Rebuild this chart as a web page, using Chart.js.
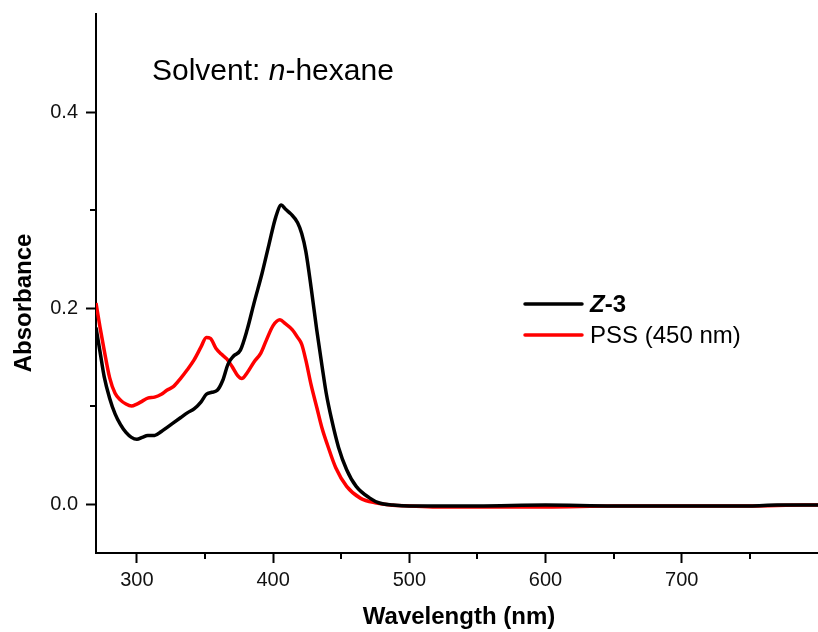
<!DOCTYPE html>
<html>
<head>
<meta charset="utf-8">
<script src="https://cdn.jsdelivr.net/npm/chart.js@4/dist/chart.umd.min.js"></script>
<style>
  html, body { margin: 0; padding: 0; background: #fff; }
  #wrap { width: 818px; height: 632px; }
</style>
</head>
<body>
<div id="wrap"><canvas id="c" width="818" height="632"></canvas></div>
<script>
// ---- data ----
const wavelengthZ3 = [270, 273, 276, 280, 284, 288, 292, 296, 300, 304, 308, 313, 318, 322, 327, 332, 337, 342, 347, 351, 355, 359, 363, 367, 371, 376, 381, 386, 392, 397, 402, 406, 409, 413, 418, 421, 424, 428, 432, 436, 439, 443, 448, 454, 461, 471, 478, 488, 500, 550, 600, 650, 700, 750, 770, 790, 800];
const absorbanceZ3 = [0.180, 0.155, 0.130, 0.108, 0.092, 0.081, 0.073, 0.068, 0.066, 0.068, 0.070, 0.070, 0.074, 0.078, 0.083, 0.088, 0.093, 0.097, 0.104, 0.112, 0.114, 0.116, 0.126, 0.143, 0.151, 0.157, 0.178, 0.205, 0.236, 0.265, 0.293, 0.305, 0.301, 0.296, 0.287, 0.276, 0.258, 0.220, 0.178, 0.140, 0.113, 0.086, 0.058, 0.035, 0.018, 0.006, 0.001, -0.001, -0.002, -0.002, -0.001, -0.002, -0.002, -0.002, -0.001, -0.001, -0.001];

const wavelengthPSS = [270, 273, 276, 280, 284, 288, 292, 296, 300, 304, 308, 313, 318, 322, 327, 332, 337, 342, 347, 351, 354, 358, 362, 366, 370, 374, 377, 381, 386, 391, 395, 400, 405, 409, 414, 418, 421, 424, 428, 432, 436, 440, 446, 454, 464, 476, 486, 500, 520, 560, 600, 650, 700, 750, 790, 800];
const absorbancePSS = [0.205, 0.180, 0.157, 0.129, 0.113, 0.106, 0.102, 0.100, 0.102, 0.105, 0.108, 0.109, 0.112, 0.116, 0.120, 0.128, 0.137, 0.147, 0.160, 0.170, 0.169, 0.159, 0.153, 0.148, 0.140, 0.131, 0.128, 0.134, 0.145, 0.154, 0.167, 0.182, 0.188, 0.184, 0.178, 0.170, 0.163, 0.147, 0.121, 0.099, 0.077, 0.060, 0.037, 0.018, 0.006, 0.001, -0.001, -0.002, -0.003, -0.003, -0.003, -0.002, -0.002, -0.002, -0.001, -0.001];

const xMajorTicks = [300, 400, 500, 600, 700];
const xMinorTicks = [350, 450, 550, 650, 750];
const yMajorTicks = [0.0, 0.2, 0.4];
const yMinorTicks = [0.1, 0.3];

const seriesNames = ['Z-3', 'PSS (450 nm)'];
const annotationText = ['Solvent: ', 'n', '-hexane'];
const xTitle = 'Wavelength (nm)';
const yTitle = 'Absorbance';

// ---- chart ----
const FONT = '"Liberation Sans", Arial, Helvetica, sans-serif';

const extras = {
  id: 'extras',
  afterDraw(chart) {
    const ctx = chart.ctx;
    const xs = chart.scales.x, ys = chart.scales.y;
    const area = chart.chartArea;
    ctx.save();
    // minor ticks
    ctx.strokeStyle = '#000';
    ctx.lineWidth = 2;
    xMinorTicks.forEach(v => {
      const px = Math.round(xs.getPixelForValue(v));
      ctx.beginPath();
      ctx.moveTo(px, area.bottom);
      ctx.lineTo(px, area.bottom + 6);
      ctx.stroke();
    });
    yMinorTicks.forEach(v => {
      const py = Math.round(ys.getPixelForValue(v));
      ctx.beginPath();
      ctx.moveTo(area.left, py);
      ctx.lineTo(area.left - 6, py);
      ctx.stroke();
    });

    ctx.fillStyle = '#000';
    ctx.textBaseline = 'alphabetic';
    // annotation
    let x = 152;
    const ay = 80;
    ctx.font = '30px ' + FONT;
    ctx.fillText(annotationText[0], x, ay);
    x += ctx.measureText(annotationText[0]).width;
    ctx.font = 'italic 30px ' + FONT;
    ctx.fillText(annotationText[1], x, ay);
    x += ctx.measureText(annotationText[1]).width;
    ctx.font = '30px ' + FONT;
    ctx.fillText(annotationText[2], x, ay);

    // axis titles
    ctx.font = 'bold 24px ' + FONT;
    ctx.textAlign = 'center';
    ctx.textBaseline = 'middle';
    ctx.fillText(xTitle, 459, 617);
    ctx.save();
    ctx.translate(24, 303);
    ctx.rotate(-Math.PI / 2);
    ctx.fillText(yTitle, 0, 0);
    ctx.restore();

    // legend
    ctx.textAlign = 'left';
    ctx.textBaseline = 'alphabetic';
    const ds = chart.data.datasets;
    const rows = [{y: 304, base: 312}, {y: 335, base: 343}];
    rows.forEach((r, i) => {
      ctx.strokeStyle = ds[i].borderColor;
      ctx.lineWidth = 3.5;
      ctx.lineCap = 'round';
      ctx.beginPath();
      ctx.moveTo(525, r.y);
      ctx.lineTo(582, r.y);
      ctx.stroke();
    });
    // Z-3 : italic bold Z, bold "-3"
    let lx = 590;
    const name0 = seriesNames[0];
    ctx.font = 'italic bold 24px ' + FONT;
    ctx.fillText(name0.slice(0, 1), lx, rows[0].base);
    lx += ctx.measureText(name0.slice(0, 1)).width;
    ctx.font = 'bold 24px ' + FONT;
    ctx.fillText(name0.slice(1), lx, rows[0].base);
    ctx.font = '24px ' + FONT;
    ctx.fillText(seriesNames[1], 590, rows[1].base);
    ctx.restore();
  }
};

new Chart(document.getElementById('c'), {
  type: 'line',
  data: {
    datasets: [
      {
        label: seriesNames[0],
        data: wavelengthZ3.map((w, i) => ({x: w, y: absorbanceZ3[i]})),
        borderColor: '#000000',
        borderWidth: 3.5,
        pointRadius: 0,
        cubicInterpolationMode: 'monotone',
        fill: false
      },
      {
        label: seriesNames[1],
        data: wavelengthPSS.map((w, i) => ({x: w, y: absorbancePSS[i]})),
        borderColor: '#ff0000',
        borderWidth: 3.5,
        pointRadius: 0,
        cubicInterpolationMode: 'monotone',
        fill: false
      }
    ]
  },
  options: {
    responsive: false,
    animation: false,
    events: [],
    layout: { padding: { top: 14, right: 0, left: 0, bottom: 0 } },
    plugins: { legend: { display: false }, tooltip: { enabled: false }, title: { display: false } },
    scales: {
      x: {
        type: 'linear',
        min: 270,
        max: 800,
        afterBuildTicks: s => { s.ticks = xMajorTicks.map(v => ({value: v})); },
        afterFit: s => { s.height = 79; s.paddingLeft = 0; s.paddingRight = 0; },
        ticks: {
          font: { family: FONT, size: 20 },
          color: '#111',
          padding: 5,
          maxRotation: 0,
          callback: v => String(v)
        },
        grid: { display: true, drawOnChartArea: false, drawTicks: true, tickLength: 10, tickWidth: 2, tickColor: '#000' },
        border: { display: true, color: '#000', width: 2 }
      },
      y: {
        type: 'linear',
        min: -0.05,
        max: 0.5,
        afterBuildTicks: s => { s.ticks = yMajorTicks.map(v => ({value: v})); },
        afterFit: s => { s.width = 96; s.paddingTop = 0; s.paddingBottom = 0; },
        ticks: {
          font: { family: FONT, size: 20 },
          color: '#111',
          padding: 8,
          callback: v => Number(v).toFixed(1)
        },
        grid: { display: true, drawOnChartArea: false, drawTicks: true, tickLength: 10, tickWidth: 2, tickColor: '#000' },
        border: { display: true, color: '#000', width: 2 }
      }
    }
  },
  plugins: [extras]
});
</script>
</body>
</html>
